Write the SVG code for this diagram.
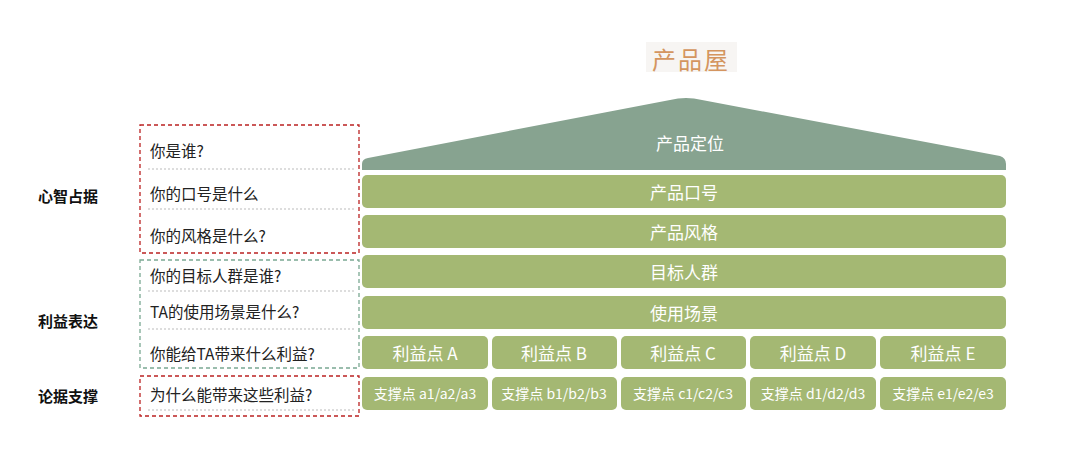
<svg xmlns="http://www.w3.org/2000/svg" width="1080" height="457" viewBox="0 0 1080 457">
<style>
text{font-family:"Noto Sans CJK SC","Noto Sans",sans-serif}
.bar{fill:#a4b873}
.w{fill:#fff;font-size:17px;text-anchor:middle;dominant-baseline:central}
.ws{fill:#fff;font-size:14px;text-anchor:middle;dominant-baseline:central}
.q{fill:#222;font-size:15.5px;dominant-baseline:central}
.lab{fill:#111;font-size:15px;font-weight:bold;dominant-baseline:central}
.sep{stroke:#bbb;stroke-width:1;stroke-dasharray:2 2}
.rbox{fill:none;stroke:#b22;stroke-width:1.3;stroke-dasharray:4 3}
.gbox{fill:none;stroke:#7aa892;stroke-width:1.3;stroke-dasharray:4 3}
</style>
<rect width="1080" height="457" fill="#fff"/>
<g id="title"><rect x="646" y="42" width="91" height="30" fill="#f7f5f3"/><text x="691" y="58" font-size="24" fill="#d4955f" text-anchor="middle" dominant-baseline="central" letter-spacing="2">产品屋</text></g>
<g id="roof"><path d="M368 158 L670 100 Q686 96 702 100 L1000 156 Q1006 158 1006 164 L1006 170 L362 170 L362 164 Q362 159 368 158 Z" fill="#87a390"/><text class="w" x="690" y="142" font-size="20">产品定位</text></g>
<g id="slogan"><rect class="bar" x="362" y="175" width="644" height="33" rx="5"/><text class="w" x="684" y="191">产品口号</text></g>
<g id="style"><rect class="bar" x="362" y="215" width="644" height="33" rx="5"/><text class="w" x="684" y="231">产品风格</text></g>
<g id="target"><rect class="bar" x="362" y="255" width="644" height="33" rx="5"/><text class="w" x="684" y="271">目标人群</text></g>
<g id="scene"><rect class="bar" x="362" y="296" width="644" height="33" rx="5"/><text class="w" x="684" y="312">使用场景</text></g>
<g id="benefits">
<rect class="bar" x="362" y="336" width="126" height="33" rx="5"/><text class="w" x="425" y="352">利益点 A</text>
<rect class="bar" x="492" y="336" width="125" height="33" rx="5"/><text class="w" x="554" y="352">利益点 B</text>
<rect class="bar" x="621" y="336" width="125" height="33" rx="5"/><text class="w" x="683" y="352">利益点 C</text>
<rect class="bar" x="750" y="336" width="126" height="33" rx="5"/><text class="w" x="813" y="352">利益点 D</text>
<rect class="bar" x="880" y="336" width="126" height="33" rx="5"/><text class="w" x="943" y="352">利益点 E</text>
</g>
<g id="supports">
<rect class="bar" x="362" y="377" width="126" height="33" rx="5"/><text class="ws" x="425" y="393">支撑点 a1/a2/a3</text>
<rect class="bar" x="492" y="377" width="125" height="33" rx="5"/><text class="ws" x="554" y="393">支撑点 b1/b2/b3</text>
<rect class="bar" x="621" y="377" width="125" height="33" rx="5"/><text class="ws" x="683" y="393">支撑点 c1/c2/c3</text>
<rect class="bar" x="750" y="377" width="126" height="33" rx="5"/><text class="ws" x="813" y="393">支撑点 d1/d2/d3</text>
<rect class="bar" x="880" y="377" width="126" height="33" rx="5"/><text class="ws" x="943" y="393">支撑点 e1/e2/e3</text>
</g>
<g id="labels">
<text class="lab" x="38" y="195">心智占据</text>
<text class="lab" x="38" y="320">利益表达</text>
<text class="lab" x="38" y="395">论据支撑</text>
</g>
<g id="questions">
<rect class="rbox" x="140" y="125" width="219" height="128"/>
<rect class="gbox" x="140" y="260" width="219" height="108"/>
<rect class="rbox" x="140" y="376" width="219" height="40"/>
<line class="sep" x1="148" y1="169" x2="355" y2="169"/>
<line class="sep" x1="148" y1="209" x2="355" y2="209"/>
<line class="sep" x1="148" y1="291" x2="355" y2="291"/>
<line class="sep" x1="148" y1="329" x2="355" y2="329"/>
<line class="sep" x1="148" y1="410" x2="355" y2="410"/>
<text class="q" x="150" y="150">你是谁?</text>
<text class="q" x="150" y="193">你的口号是什么</text>
<text class="q" x="150" y="235">你的风格是什么?</text>
<text class="q" x="150" y="275">你的目标人群是谁?</text>
<text class="q" x="150" y="311">TA的使用场景是什么?</text>
<text class="q" x="150" y="353">你能给TA带来什么利益?</text>
<text class="q" x="150" y="394">为什么能带来这些利益?</text>
</g>
</svg>
